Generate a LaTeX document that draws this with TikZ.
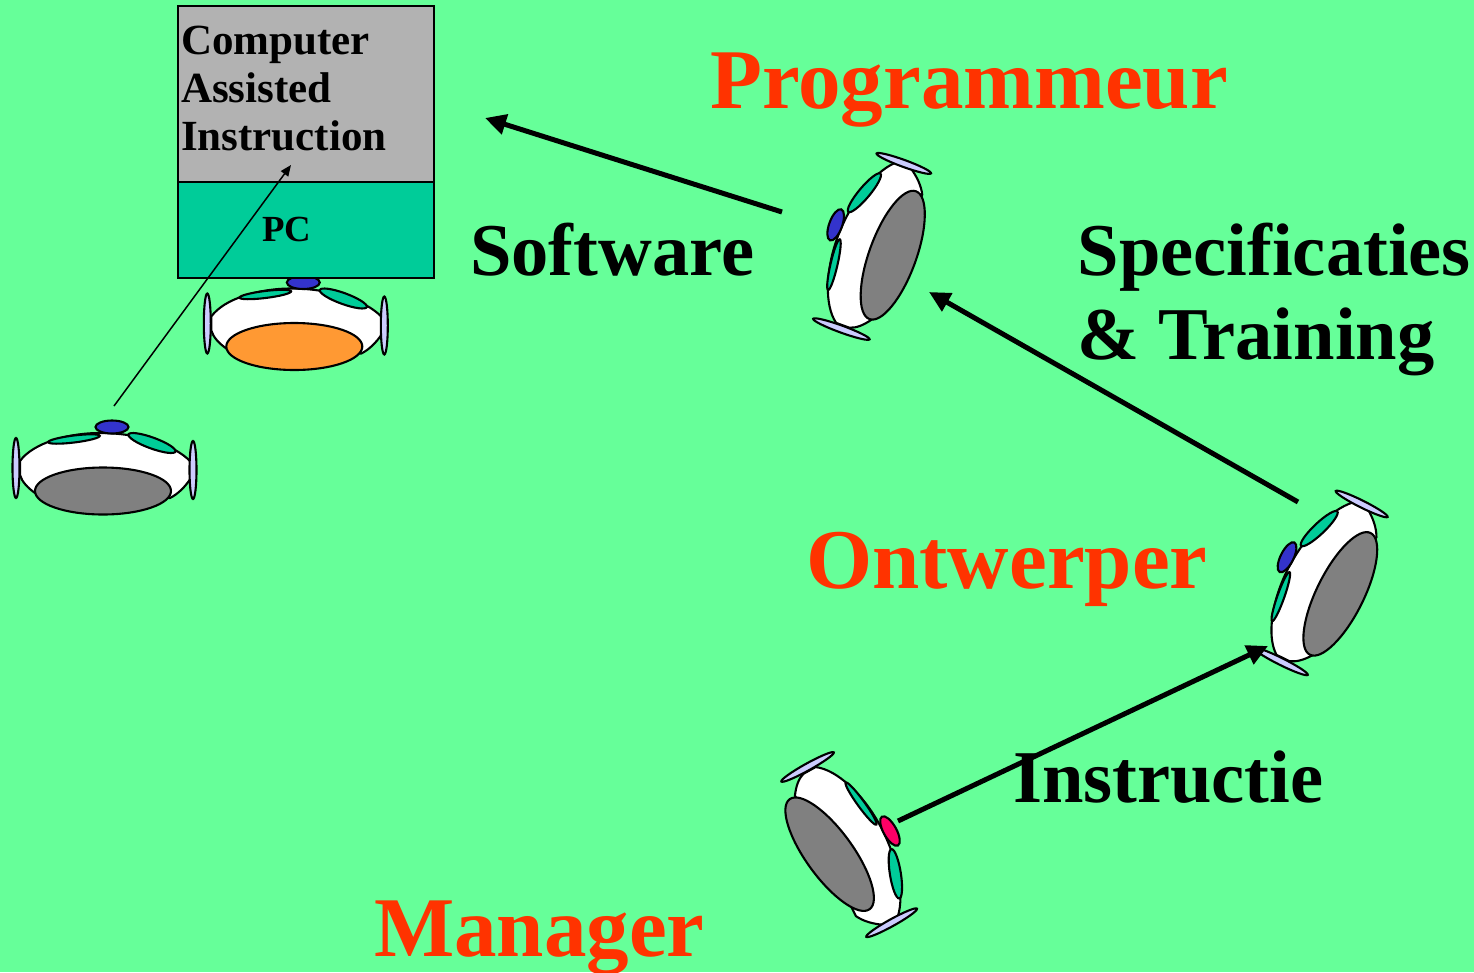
\documentclass[tikz,border=0pt]{standalone}
\usepackage{fontspec}
\setmainfont{Liberation Serif}
\usetikzlibrary{arrows.meta}
\definecolor{bggreen}{HTML}{66FF99}
\definecolor{tealc}{HTML}{00CC99}
\definecolor{bluec}{HTML}{3333CC}
\definecolor{pinkc}{HTML}{FF0066}
\definecolor{earc}{HTML}{CCCCFF}
\definecolor{orangec}{HTML}{FF9933}
\definecolor{boxgray}{HTML}{B2B2B2}
\definecolor{redt}{HTML}{FF3300}
\tikzset{
  outl/.style={draw=black,line width=2.1pt},
  rolelabel/.style={text=redt,font=\bfseries\fontsize{85}{90}\selectfont,anchor=base west,inner sep=0pt},
  flowlabel/.style={text=black,font=\bfseries\fontsize{74.5}{80}\selectfont,anchor=base west,inner sep=0pt},
  boxlabel/.style={text=black,font=\bfseries\fontsize{43}{48}\selectfont,anchor=base west,inner sep=0pt},
  stage/.style={draw=black,line width=1.8pt,minimum width=256pt,inner sep=0pt,outer sep=0pt},
  flow/.style={line width=5pt,-{Triangle[length=21pt,width=20pt]}},
  thinflow/.style={line width=1.5pt,-{Triangle[length=11pt,width=9pt]}}
}
% \person{x}{y}{rotation}{head colour}{face colour}{extra face rotation}
\newcommand{\person}[6]{%
  \begin{scope}[shift={(#1,#2)},rotate=#3]
    \path[outl,fill=white] (-83,-9) .. controls (-70,-27) and (-35,-37) .. (-3,-37)
      .. controls (32,-37) and (70,-27) .. (88,-8) -- (88,8)
      .. controls (82,17) and (75,24) .. (67,28) -- (-68,23)
      .. controls (-75,18) and (-81,12) .. (-83,5) -- cycle;
    \path[outl,fill=tealc,rotate around={7:(-29,-31)}] (-29,-31) ellipse [x radius=26,y radius=3.5];
    \path[outl,fill=tealc,rotate around={-20:(49,-27)}] (49,-27) ellipse [x radius=25,y radius=5.5];
    \path[outl,fill=#4] (9,-43) ellipse [x radius=16.5,y radius=6.5];
    \path[outl,fill=earc] (-87,-2) ellipse [x radius=3.5,y radius=30];
    \path[outl,fill=earc] (90,0) ellipse [x radius=3.5,y radius=29];
    \path[outl,fill=#5,rotate around={#6:(0,21)}] (0,21) ellipse [x radius=68,y radius=23.5];
  \end{scope}}
\begin{document}
\begin{tikzpicture}[x=1pt,y=-1pt]
  \useasboundingbox (0,0) rectangle (1474,972);
  \fill[bggreen] (0,0) rectangle (1474,972);

  \person{294.3}{325.5}{0}{bluec}{orangec}{0}
  \person{103}{470}{0}{bluec}{gray}{0}
  \person{873}{248}{70}{bluec}{gray}{0}
  \person{1321.5}{584.5}{63.5}{bluec}{gray}{0}
  \person{848}{844}{-61}{pinkc}{gray}{7}

  \node[stage,fill=boxgray,minimum height=176pt] (cai) at (306,94) {};
  \node[stage,fill=tealc,minimum height=96pt] (pc) at (306,230) {};

  \coordinate (learner) at (114,406);
  \coordinate (caitip) at (291,165);
  \coordinate (progout) at (782,212);
  \coordinate (softtip) at (485,118);
  \coordinate (ontout) at (1298,502);
  \coordinate (progin) at (929,292);
  \coordinate (manout) at (898,821);
  \coordinate (ontin) at (1268,646);

  \draw[thinflow] (learner) -- (caitip);
  \draw[flow] (progout) -- (softtip);
  \draw[flow] (ontout) -- (progin);
  \draw[flow] (manout) -- (ontin);

  \node[boxlabel] (t1) at (181,54) {Computer};
  \node[boxlabel] (t2) at (181,102) {Assisted};
  \node[boxlabel] (t3) at (181,150) {Instruction};
  \node[boxlabel,font=\bfseries\fontsize{36.8}{40}\selectfont] (t4) at (262,241) {PC};

  \node[rolelabel] (prog) at (710,108) {Programmeur};
  \node[rolelabel] (ont) at (806,588) {Ontwerper};
  \node[rolelabel] (man) at (374,956) {Manager};
  \node[flowlabel] (soft) at (470,275) {Software};
  \node[flowlabel] (spec) at (1077.5,275) {Specificaties};
  \node[flowlabel] (train) at (1077.5,359) {\& Training};
  \node[flowlabel] (instr) at (1013,802) {Instructie};
\end{tikzpicture}
\end{document}
